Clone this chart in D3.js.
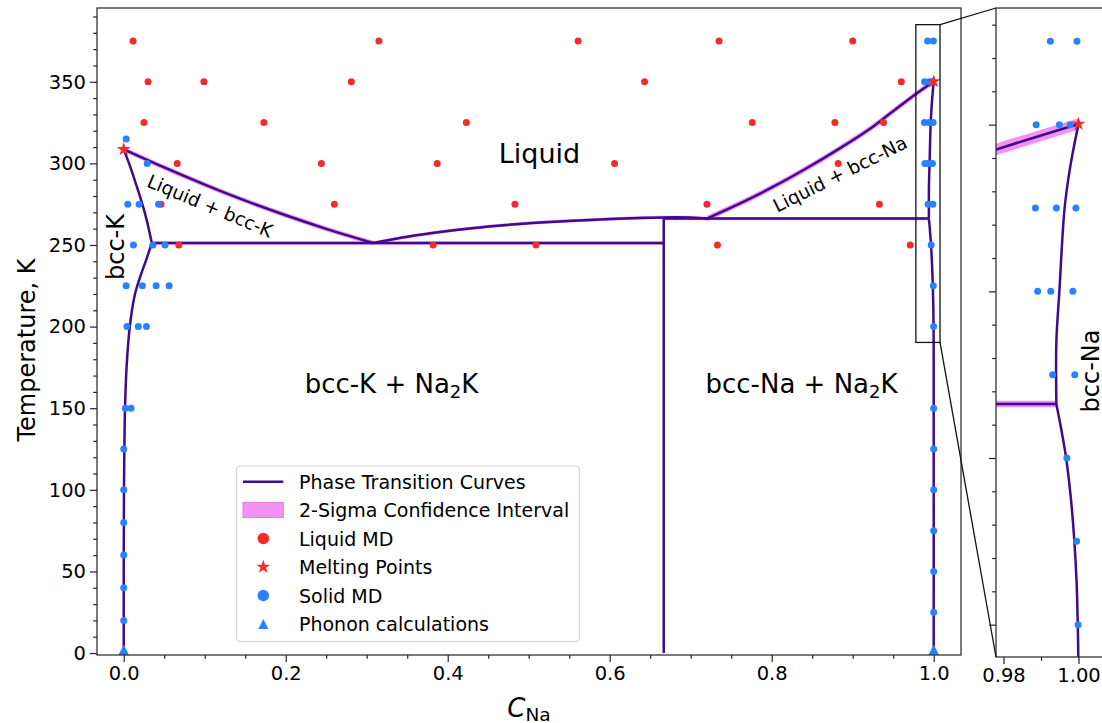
<!DOCTYPE html>
<html>
<head>
<meta charset="utf-8">
<script src="https://cdn.jsdelivr.net/npm/d3@7/dist/d3.min.js"></script>
<style>
html,body{margin:0;padding:0;background:#fff;}
svg{display:block;}
text{font-family:"DejaVu Sans",sans-serif;fill:#000;}
</style>
</head>
<body>
<svg id="chart" width="1102" height="723"></svg>
<script>
// ---------------- data (C_Na, Temperature K) ----------------
const liquidusK   = [[0,308.6],[0.05,297.5],[0.10,287.0],[0.15,277.2],[0.20,268.2],[0.25,259.9],[0.308,251.2]];
const solidusK    = [[0,308.6],[0.008,298],[0.016,286],[0.023,275],[0.029,264],[0.0346,251.2]];
const solvusK     = [[0.0346,251.2],[0.0285,242],[0.020,230],[0.0135,219],[0.0075,200],[0.0035,175],[0.0016,150],[0.0008,125],[0.0003,100],[0,50],[0,0]];
const eutecticLine= [[0.0346,251.2],[0.6667,251.2]];
const liquidusMid = [[0.308,251.2],[0.35,255.0],[0.39,257.9],[0.43,260.3],[0.473,262.3],[0.515,263.8],[0.555,264.9],[0.60,265.9],[0.637,266.6],[0.667,266.9],[0.70,266.8],[0.72,266.2]];
const na2kLine    = [[0.6667,0],[0.6667,266.2]];
const peritectic  = [[0.6667,266.2],[0.9941,266.2]];
const liquidusNa  = [[0.72,266.2],[0.761,275.5],[0.802,285.7],[0.843,297.0],[0.884,309.2],[0.925,322.5],[0.946,330.5],[0.978,342.5],[1.0,350.2]];
const solidusNa   = [[1.0,350.2],[0.9978,337.4],[0.9963,325],[0.9949,300],[0.9941,285],[0.9941,266.2]];
const solvusNa    = [[0.9941,266.2],[0.9955,258],[0.9967,250],[0.9980,237.5],[0.9989,225],[0.9995,212.5],[0.9998,200],[0.99995,190],[1.0,150],[1.0,0]];

// 2-sigma half widths (K) for each curve
const curveNames = ["liquidusK","solidusK","solvusK","eutecticLine","liquidusMid","na2kLine","peritectic","liquidusNa","solidusNa","solvusNa"];
const curveData  = [liquidusK,solidusK,solvusK,eutecticLine,liquidusMid,na2kLine,peritectic,liquidusNa,solidusNa,solvusNa];
const curveSigma = [1.5,0.8,0.8,1.0,1.0,0,1.0,1.75,0.6,0.6];

const liquidC = [0.0115,0.315,0.561,0.735,0.900, 0.030,0.099,0.281,0.643,0.960, 0.025,0.173,0.423,0.776,0.878,0.938, 0.066,0.244,0.387,0.606,0.882, 0.046,0.260,0.483,0.720,0.933, 0.068,0.382,0.509,0.733,0.971];
const liquidT = [375,375,375,375,375, 350,350,350,350,350, 325,325,325,325,325,325, 300,300,300,300,300, 275,275,275,275,275, 250,250,250,250,250];

const solidC = [0.003,0.029,0.005,0.019,0.043,0.012,0.036,0.051,0.003,0.023,0.040,0.056,0.004,0.018,0.028,0.002,0.009,0,0,0,0,0,0,
                0.9925,0.9996,0.9887,0.9949,0.9978,0.9885,0.9941,0.9993,0.9891,0.9926,0.9985,0.9931,0.9990,0.9969,0.9995,0.9999,1,1,1,1,1,1];
const solidT = [315,300,275,275,275,250,250,250,225,225,225,225,200,200,200,150,150,125,100,80,60,40,20,
                375,375,350,350,350,325,325,325,300,300,300,275,275,250,225,200,150,125,100,75,50,25];

const phononC = [0,1];
const phononT = [0,0];
const meltC = [0,1];
const meltT = [308.6,350.2];

const mainXTicks = [0,0.2,0.4,0.6,0.8,1.0];
const mainYTicks = [0,50,100,150,200,250,300,350];
const insetXTicks = [0.98,1.00];
const insetYTicks = [200,250,300,350];

const legendLabels = ["Phase Transition Curves","2-Sigma Confidence Interval","Liquid MD","Melting Points","Solid MD","Phonon calculations"];

// ---------------- styles ----------------
const lineColor = "#3e0b8c";
const bandColor = "#f27ff2";
const redColor = "#f72a2a";
const blueColor = "#2882ff";
const spineColor = "#333";

const svg = d3.select("#chart");
const defs = svg.append("defs");

const M = {l:97, r:961, t:8, b:655};
const I = {l:996, r:1107.75, t:8, b:657};
const xM = d3.scaleLinear().domain([-0.033,1.0337]).range([M.l,M.r]);
const yM = d3.scaleLinear().domain([-1.2,395.2]).range([M.b,M.t]);
const xI = d3.scaleLinear().domain([0.978,1.0078]).range([I.l,I.r]);
const yI = d3.scaleLinear().domain([190.3,385]).range([I.b,I.t]);

defs.append("clipPath").attr("id","clipM").append("rect")
  .attr("x",M.l).attr("y",M.t).attr("width",M.r-M.l).attr("height",M.b-M.t);
defs.append("clipPath").attr("id","clipI").append("rect")
  .attr("x",I.l).attr("y",I.t).attr("width",I.r-I.l).attr("height",I.b-I.t);

const starSym = d3.symbol().type(d3.symbolStar).size(60);
function triPath(h){ return `M0,${-h}L${h},${h}L${-h},${h}Z`; }

function drawData(g, xs, ys, dotR){
  const curve = d3.curveCatmullRom.alpha(0.5);
  curveData.forEach((pts,i)=>{
    const s = curveSigma[i];
    if(s>0){
      g.append("path")
        .attr("d", d3.area().x(d=>xs(d[0])).y0(d=>ys(d[1]-s)).y1(d=>ys(d[1]+s)).curve(curve)(pts))
        .attr("fill",bandColor).attr("opacity",0.85);
    }
  });
  curveData.forEach((pts)=>{
    g.append("path")
      .attr("d", d3.line().x(d=>xs(d[0])).y(d=>ys(d[1])).curve(curve)(pts))
      .attr("fill","none").attr("stroke",lineColor).attr("stroke-width",2.5)
      .attr("stroke-linejoin","round");
  });
  g.selectAll(null).data(liquidC).enter().append("circle")
    .attr("cx",(d)=>xs(d)).attr("cy",(d,i)=>ys(liquidT[i])).attr("r",dotR).attr("fill",redColor);
  g.selectAll(null).data(solidC).enter().append("circle")
    .attr("cx",(d)=>xs(d)).attr("cy",(d,i)=>ys(solidT[i])).attr("r",dotR).attr("fill",blueColor);
  g.selectAll(null).data(phononC).enter().append("path")
    .attr("d",triPath(8.5))
    .attr("transform",(d,i)=>`translate(${xs(d)},${ys(phononT[i])})`).attr("fill",blueColor);
  g.selectAll(null).data(meltC).enter().append("path")
    .attr("d",starSym())
    .attr("transform",(d,i)=>`translate(${xs(d)},${ys(meltT[i])})`).attr("fill",redColor);
}

// ---------- main axes data ----------
const gM = svg.append("g").attr("clip-path","url(#clipM)");
drawData(gM, xM, yM, 3.5);

// ---------- inset axes data ----------
const gI = svg.append("g").attr("clip-path","url(#clipI)");
drawData(gI, xI, yI, 3.5);

// ---------- region labels ----------
gM.append("text").attr("x",539.5).attr("y",153).attr("text-anchor","middle")
  .attr("dominant-baseline","central").attr("font-size",27).text("Liquid");
gM.append("text").attr("transform","translate(210,206) rotate(22.7)").attr("text-anchor","middle")
  .attr("dominant-baseline","central").attr("font-size",18.5).text("Liquid + bcc-K");
gM.append("text").attr("transform","translate(840,174) rotate(-26.6)").attr("text-anchor","middle")
  .attr("dominant-baseline","central").attr("font-size",18.5).text("Liquid + bcc-Na");
gM.append("text").attr("transform","translate(116,247) rotate(-90)").attr("text-anchor","middle")
  .attr("dominant-baseline","central").attr("font-size",24).text("bcc-K");

function na2kText(g, x, y, prefix){
  const t = g.append("text").attr("x",x).attr("y",y).attr("text-anchor","middle").attr("font-size",26);
  t.append("tspan").text(prefix + " + Na");
  t.append("tspan").attr("font-size",18).attr("dy",5).text("2");
  t.append("tspan").attr("dy",-5).text("K");
}
na2kText(gM, 391.5, 393, "bcc-K");
na2kText(gM, 801.5, 393, "bcc-Na");

gI.append("text").attr("transform","translate(1091,371) rotate(-90)").attr("text-anchor","middle")
  .attr("dominant-baseline","central").attr("font-size",24).text("bcc-Na");

// ---------- axes / spines ----------
function styleAxis(sel){
  sel.select(".domain").remove();
  sel.selectAll(".tick line").attr("stroke","#222").attr("stroke-width",1.2);
  sel.selectAll(".tick text").attr("font-family","DejaVu Sans").attr("font-size",19.5).attr("fill","#000");
}
const minorMX = d3.range(0,1.0001,0.05).filter(v=>Math.abs(v*5-Math.round(v*5))>1e-6);
const minorMY = d3.range(0,391,10).filter(v=>v%50!==0);

styleAxis(svg.append("g").attr("transform",`translate(0,${M.b})`)
  .call(d3.axisBottom(xM).tickValues(mainXTicks).tickFormat(d3.format(".1f")).tickSize(7).tickPadding(4)));
styleAxis(svg.append("g").attr("transform",`translate(0,${M.b})`)
  .call(d3.axisBottom(xM).tickValues(minorMX).tickFormat("").tickSize(3.8)));
styleAxis(svg.append("g").attr("transform",`translate(${M.l},0)`)
  .call(d3.axisLeft(yM).tickValues(mainYTicks).tickFormat(d3.format("d")).tickSize(7).tickPadding(4)));
styleAxis(svg.append("g").attr("transform",`translate(${M.l},0)`)
  .call(d3.axisLeft(yM).tickValues(minorMY).tickFormat("").tickSize(3.8)));

svg.append("rect").attr("x",M.l).attr("y",M.t).attr("width",M.r-M.l).attr("height",M.b-M.t)
  .attr("fill","none").attr("stroke",spineColor).attr("stroke-width",1.3);

// inset axes
const minorIY = d3.range(200,381,10).filter(v=>v%50!==0);
styleAxis(svg.append("g").attr("transform",`translate(0,${I.b})`)
  .call(d3.axisBottom(xI).tickValues(insetXTicks).tickFormat(d3.format(".2f")).tickSize(7).tickPadding(4)));
styleAxis(svg.append("g").attr("transform",`translate(0,${I.b})`)
  .call(d3.axisBottom(xI).tickValues([0.99]).tickFormat("").tickSize(3.8)));
styleAxis(svg.append("g").attr("transform",`translate(${I.l},0)`)
  .call(d3.axisLeft(yI).tickValues(insetYTicks).tickFormat("").tickSize(7)));
styleAxis(svg.append("g").attr("transform",`translate(${I.l},0)`)
  .call(d3.axisLeft(yI).tickValues(minorIY).tickFormat("").tickSize(3.8)));
svg.append("rect").attr("x",I.l).attr("y",I.t).attr("width",I.r-I.l).attr("height",I.b-I.t)
  .attr("fill","none").attr("stroke",spineColor).attr("stroke-width",1.3);

// zoom rectangle + connectors
const zx0 = xM(xI.domain()[0]), zx1 = xM(xI.domain()[1]);
const zy0 = yM(yI.domain()[1]), zy1 = yM(yI.domain()[0]);
svg.append("rect").attr("x",zx0).attr("y",zy0).attr("width",zx1-zx0).attr("height",zy1-zy0)
  .attr("fill","none").attr("stroke","#111").attr("stroke-width",1.3);
svg.append("line").attr("x1",zx1).attr("y1",zy0).attr("x2",I.l).attr("y2",I.t)
  .attr("stroke","#111").attr("stroke-width",1.3);
svg.append("line").attr("x1",zx1).attr("y1",zy1).attr("x2",I.l).attr("y2",I.b)
  .attr("stroke","#111").attr("stroke-width",1.3);

// axis labels
svg.append("text").attr("transform","translate(27,350) rotate(-90)").attr("text-anchor","middle")
  .attr("dominant-baseline","central").attr("font-size",24).text("Temperature, K");
const xl = svg.append("text").attr("x",529).attr("y",717).attr("text-anchor","middle").attr("font-size",26);
xl.append("tspan").attr("font-style","italic").text("C");
xl.append("tspan").attr("font-size",18.5).attr("dy",4).text("Na");

// ---------- legend ----------
const lg = svg.append("g");
lg.append("rect").attr("x",236.5).attr("y",466).attr("width",343).attr("height",175.5).attr("rx",4)
  .attr("fill","#fff").attr("fill-opacity",0.8).attr("stroke","#d0d0d0").attr("stroke-width",1.2);
const rowY = [481.7,510,538.5,567,595.5,624];
const hx = 263.3;
lg.append("line").attr("x1",243).attr("x2",283.3).attr("y1",rowY[0]).attr("y2",rowY[0])
  .attr("stroke",lineColor).attr("stroke-width",2.5);
lg.append("rect").attr("x",243).attr("y",rowY[1]-7.5).attr("width",40.3).attr("height",15)
  .attr("fill",bandColor).attr("opacity",0.85).attr("stroke","#e066e0").attr("stroke-width",1);
lg.append("circle").attr("cx",hx).attr("cy",rowY[2]).attr("r",5.8).attr("fill",redColor);
lg.append("path").attr("d",starSym()).attr("transform",`translate(${hx},${rowY[3]})`).attr("fill",redColor);
lg.append("circle").attr("cx",hx).attr("cy",rowY[4]).attr("r",5.8).attr("fill",blueColor);
lg.append("path").attr("d",triPath(5)).attr("transform",`translate(${hx},${rowY[5]})`).attr("fill",blueColor);
lg.selectAll(null).data(legendLabels).enter().append("text")
  .attr("x",299).attr("y",(d,i)=>rowY[i]).attr("dominant-baseline","central")
  .attr("font-size",19).text(d=>d);
</script>
</body>
</html>
